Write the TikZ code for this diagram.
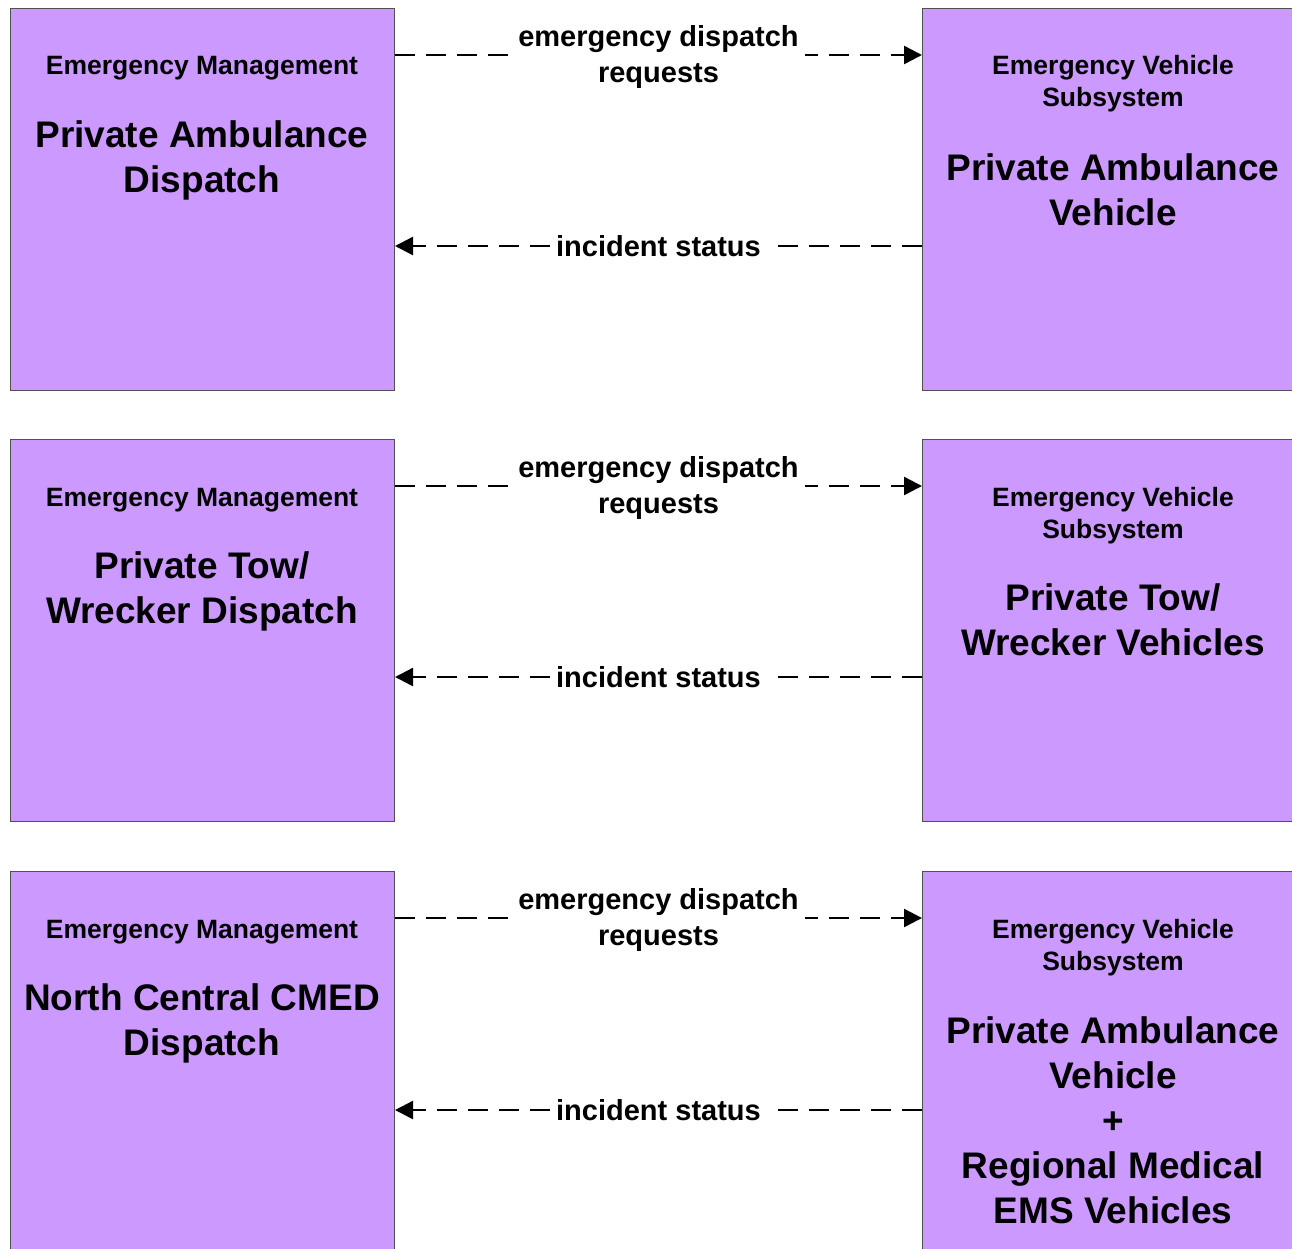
\documentclass[tikz,border=0pt]{standalone}
\usepackage{fontspec}
\setmainfont{Liberation Sans}
\usetikzlibrary{arrows.meta}
\definecolor{boxfill}{HTML}{CC99FF}
\definecolor{boxedge}{HTML}{505050}
\tikzset{
  sysbox/.style={shape=rectangle, draw=boxedge, fill=boxfill, line width=1pt,
    minimum width=384pt, minimum height=382pt, anchor=north west, inner sep=0pt},
  tiertext/.style={font=\fontsize{26.5}{32}\selectfont\bfseries, align=center},
  nametext/.style={font=\fontsize{37}{45}\selectfont\bfseries, align=center},
  flowtext/.style={font=\fontsize{29}{36}\selectfont\bfseries, align=center,
    fill=white, inner xsep=6pt, inner ysep=1pt},
  flow/.style={line width=2.4pt, dash pattern=on 20pt off 11pt,
    -{Triangle[length=18pt,width=18pt]}}
}
\begin{document}
\begin{tikzpicture}[x=1pt,y=-1pt]
				\useasboundingbox (0,0) rectangle (1292,1248);

				% first pair
				\node[sysbox] (amb1) at (10,8) {};
				\node[sysbox] (veh1) at (922,8) {};
				\node[tiertext] (amb1t) at (202,68) {Emergency Management};
				\node[nametext] (amb1n) at (202,160.5) {Private Ambulance\\Dispatch};
				\node[tiertext] (veh1t) at (1113,84) {Emergency Vehicle\\Subsystem};
				\node[nametext] (veh1n) at (1113,189.5) {Private Ambulance\\Vehicle};
				\draw[flow] ([yshift=-47pt]amb1.north east) -- ([yshift=-47pt]veh1.north west)
					node[flowtext, midway, yshift=-2pt] {emergency dispatch\\requests};
				\draw[flow] ([yshift=-238pt]veh1.north west) -- ([yshift=-238pt]amb1.north east)
					node[flowtext, midway] {incident status};

				% second pair
				\node[sysbox] (tow2) at (10,439) {};
				\node[sysbox] (wrk2) at (922,439) {};
				\node[tiertext] (tow2t) at (202,500) {Emergency Management};
				\node[nametext] (tow2n) at (202,591.5) {Private Tow/\\Wrecker Dispatch};
				\node[tiertext] (wrk2t) at (1113,516) {Emergency Vehicle\\Subsystem};
				\node[nametext] (wrk2n) at (1113,620) {Private Tow/\\Wrecker Vehicles};
				\draw[flow] ([yshift=-47pt]tow2.north east) -- ([yshift=-47pt]wrk2.north west)
					node[flowtext, midway, yshift=-2pt] {emergency dispatch\\requests};
				\draw[flow] ([yshift=-238pt]wrk2.north west) -- ([yshift=-238pt]tow2.north east)
					node[flowtext, midway] {incident status};

				% third pair
				\node[sysbox] (cmed3) at (10,871) {};
				\node[sysbox] (ems3) at (922,871) {};
				\node[tiertext] (cmed3t) at (202,932) {Emergency Management};
				\node[nametext] (cmed3n) at (202,1023.5) {North Central CMED\\Dispatch};
				\node[tiertext] (ems3t) at (1113,948) {Emergency Vehicle\\Subsystem};
				\node[nametext] (ems3n) at (1113,1120) {Private Ambulance\\Vehicle\\+\\Regional Medical\\EMS Vehicles};
				\draw[flow] ([yshift=-47pt]cmed3.north east) -- ([yshift=-47pt]ems3.north west)
					node[flowtext, midway, yshift=-2pt] {emergency dispatch\\requests};
				\draw[flow] ([yshift=-239pt]ems3.north west) -- ([yshift=-239pt]cmed3.north east)
					node[flowtext, midway] {incident status};
			\end{tikzpicture}
\end{document}
